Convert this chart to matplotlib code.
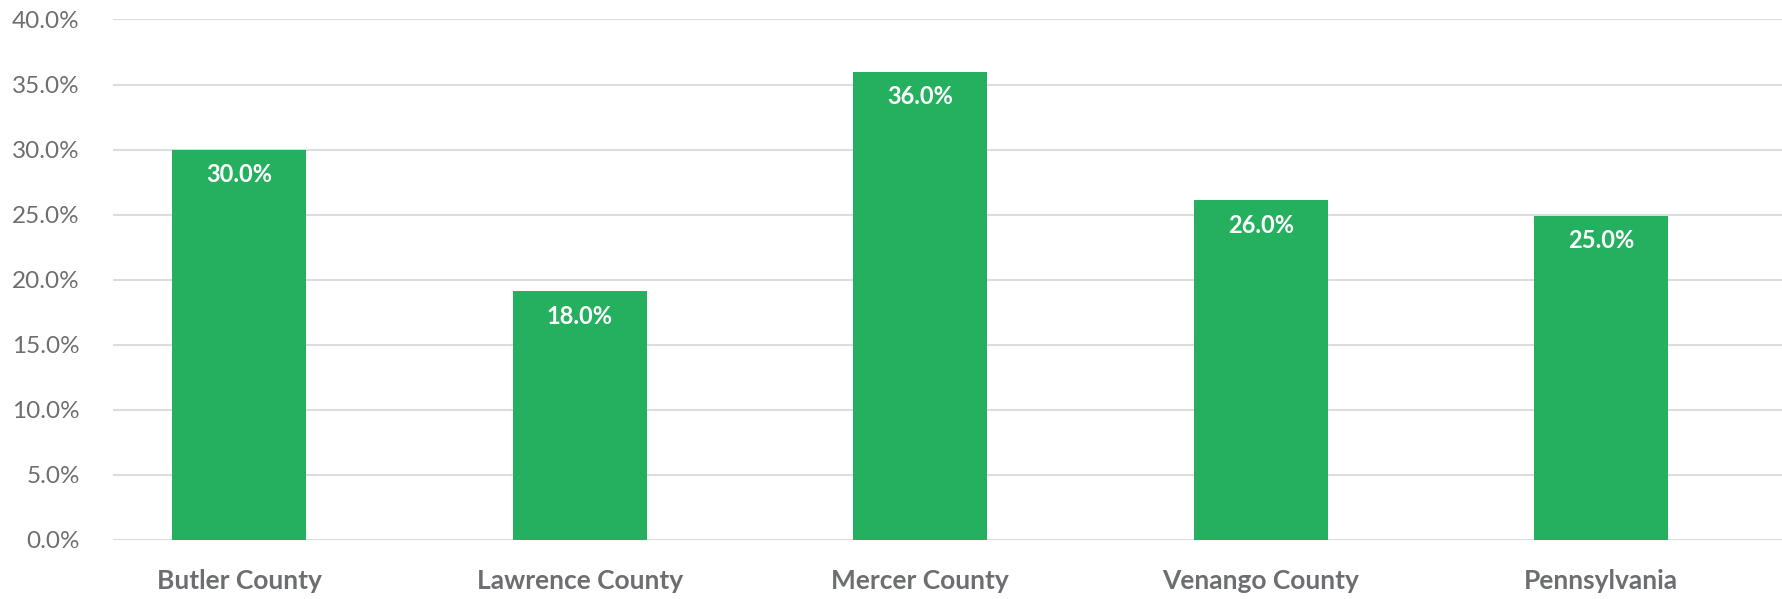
import matplotlib.pyplot as plt
import numpy as np

# dati
categorie = ['Butler County', 'Lawrence County', 'Mercer County', 'Venango County', 'Pennsylvania']
valori = [30.0, 19.1, 36.0, 26.1, 24.9]
etichette = ['30.0%', '18.0%', '36.0%', '26.0%', '25.0%']
yticks = [0, 5, 10, 15, 20, 25, 30, 35, 40]

verde = '#25b060'
grigio = '#6d6e71'

plt.rcParams['font.family'] = ['Lato', 'DejaVu Sans']

fig = plt.figure(figsize=(17.83, 5.99), dpi=100)
ax = fig.add_axes([0.0634, 0.0985, 0.936, 0.869])

x = np.arange(len(categorie))
bars = ax.bar(x, valori, width=0.393, color=verde, zorder=3)

# etichette bianche dentro la barra
for b, txt in zip(bars, etichette):
    ax.annotate(txt, (b.get_x() + b.get_width() / 2, b.get_height()),
                xytext=(0, -25), textcoords='offset pixels',
                ha='center', va='center', color='white',
                fontsize=17, fontweight='bold', zorder=4)

ax.set_xlim(-0.37, 4.53)
ax.set_ylim(0, 40)
ax.set_yticks(yticks)
ax.set_yticklabels([f'{v:.1f}%' for v in yticks])
ax.set_xticks(x)
ax.set_xticklabels(categorie, fontweight='bold')

ax.grid(axis='y', color='#dddddd', linewidth=1.5, zorder=0)
ax.set_axisbelow(True)
for s in ax.spines.values():
    s.set_visible(False)

ax.tick_params(axis='y', length=0, pad=24, labelsize=17.5, labelcolor=grigio)
ax.tick_params(axis='x', length=0, pad=21, labelsize=19, labelcolor=grigio)

plt.savefig('out.png', dpi=100)
